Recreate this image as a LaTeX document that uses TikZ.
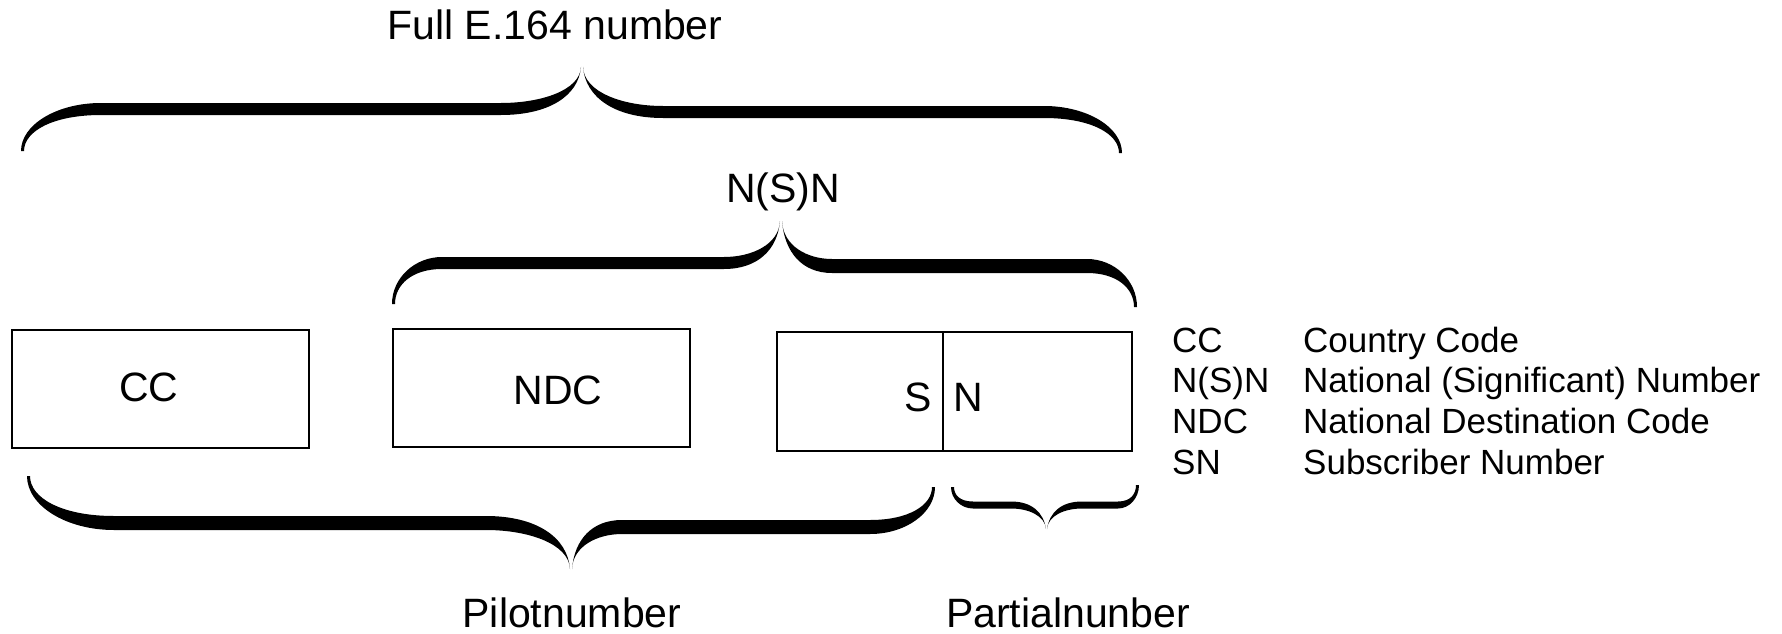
\documentclass[tikz,border=0pt]{standalone}
\usepackage{fontspec}
\setmainfont{Liberation Sans}
% half of a calligraphic brace: end x, end y, tip x, tip y, bar y, thickness, end radius, tip radius
\newcommand{\calhalf}[8]{%
  \pgfmathsetmacro{\cbsx}{sign(#3-#1)}%
  \pgfmathsetmacro{\cbdd}{sign(#2-#5)}%
  \pgfmathsetmacro{\cbfar}{#5-\cbdd*#6/2}%
  \pgfmathsetmacro{\cbnear}{#5+\cbdd*#6/2}%
  \fill (#1,#2) .. controls (#1,{#2+(\cbfar-#2)*0.55}) and ({#1+\cbsx*#7*0.45},\cbfar) .. ({#1+\cbsx*#7},\cbfar)
    -- ({#3-\cbsx*#8},\cbfar) .. controls ({#3-\cbsx*#8*0.5},\cbfar) and ({#3-\cbsx*1},{\cbfar+(#4-\cbfar)*0.35}) .. (#3,#4)
    .. controls ({#3-\cbsx*2.5},{#4+(\cbnear-#4)*0.6}) and ({#3-\cbsx*#8*0.4},\cbnear) .. ({#3-\cbsx*#8},\cbnear)
    -- ({#1+\cbsx*#7},\cbnear) .. controls ({#1+\cbsx*#7*0.4},\cbnear) and ({#1+\cbsx*3},{\cbnear+(#2-\cbnear)*0.45}) .. ({#1+\cbsx*3},#2) -- cycle;%
}
\begin{document}
\begin{tikzpicture}[x=1pt,y=-1pt,
  lbl/.style={font=\fontsize{41}{49}\selectfont, inner sep=0pt},
  leg/.style={font=\fontsize{35}{42}\selectfont, inner sep=0pt, anchor=base west},
  partbox/.style={draw, line width=1.6pt, inner sep=0pt, anchor=north west},
  divline/.style={line width=1.6pt}]
\fill[white] (0,0) rectangle (1782,634);
\useasboundingbox (0,0) rectangle (1782,634);

% boxes
\node[partbox, minimum width=297pt, minimum height=118pt] (ccbox) at (11,329) {};
\node[partbox, minimum width=297pt, minimum height=118pt] (ndcbox) at (392,328) {};
\node[partbox, minimum width=355pt, minimum height=119pt] (snbox) at (776,331) {};
\coordinate (divtop) at (943,331);
\coordinate (divbot) at (943,450);
\draw[divline] (divtop) -- (divbot);

% box texts
\node[lbl] (cctext) at (149,387) {CC};
\node[lbl] (ndctext) at (558,390) {NDC};
\node[lbl] (stext) at (918,397) {S};
\node[lbl] (ntext) at (968,397) {N};

% braces
\calhalf{21}{151}{581}{67}{109}{12}{80}{80}
\calhalf{1122}{153}{583}{67}{112}{12}{78}{80}
\calhalf{392}{304}{780}{221}{263}{12}{50}{56}
\calhalf{1137}{307}{782}{221}{266}{14}{50}{50}
\calhalf{27}{476}{570}{569}{523}{14}{87}{84}
\calhalf{935}{487}{572}{569}{527}{14}{65}{50}
\calhalf{951}{487}{1046}{529}{505}{7}{22}{35}
\calhalf{1139}{485}{1047}{529}{505}{7}{21}{35}

% brace labels
\node[lbl, anchor=base] (full) at (555,40) {Full E.164 number};
\node[lbl, anchor=base] (nsn) at (783,202) {N(S)N};
\node[lbl, anchor=base] (pilot) at (572,627) {Pilotnumber};
\node[lbl, anchor=base] (partial) at (1068,627) {Partialnunber};

% legend
\node[leg] (l1a) at (1172,352) {CC};
\node[leg] (l1b) at (1303,352) {Country Code};
\node[leg] (l2a) at (1172,392) {N(S)N};
\node[leg] (l2b) at (1303,392) {National (Significant) Number};
\node[leg] (l3a) at (1172,433) {NDC};
\node[leg] (l3b) at (1303,433) {National Destination Code};
\node[leg] (l4a) at (1172,474) {SN};
\node[leg] (l4b) at (1303,474) {Subscriber Number};
\end{tikzpicture}
\end{document}
